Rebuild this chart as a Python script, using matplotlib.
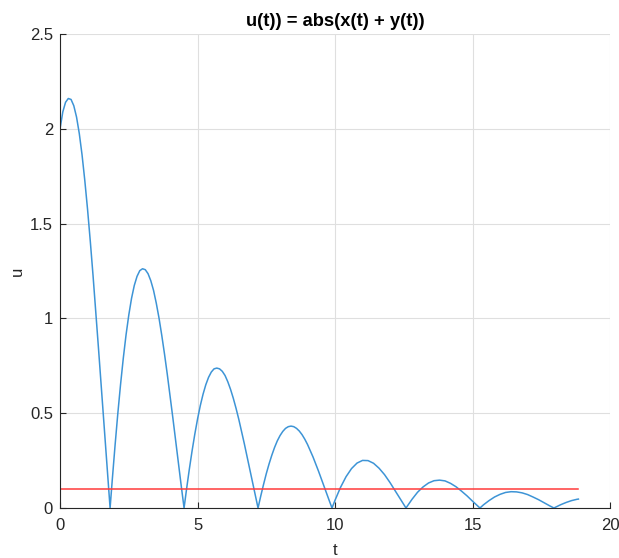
import matplotlib
matplotlib.use("Agg")
import matplotlib.pyplot as plt

# sampled response, cusps included where the sum crosses zero
t = [0.0, 0.1, 0.2, 0.3, 0.4, 0.5, 0.6, 0.7, 0.8, 0.9, 1.0, 1.1, 1.2, 1.3, 1.4,
     1.5, 1.6, 1.7, 1.8, 1.82,
     1.9, 2.0, 2.1, 2.2, 2.3, 2.4, 2.5, 2.6, 2.7, 2.8, 2.9, 3.0, 3.1, 3.2, 3.3,
     3.4, 3.5, 3.6, 3.7, 3.8, 3.9, 4.0, 4.1, 4.2, 4.3, 4.4, 4.51,
     4.6, 4.7, 4.8, 4.9, 5.0, 5.1, 5.2, 5.3, 5.4, 5.5, 5.6, 5.7, 5.8, 5.9, 6.0,
     6.1, 6.2, 6.3, 6.4, 6.5, 6.6, 6.7, 6.8, 6.9, 7.0, 7.1, 7.2,
     7.3, 7.4, 7.5, 7.6, 7.7, 7.8, 7.9, 8.0, 8.1, 8.2, 8.3, 8.4, 8.5, 8.6, 8.7,
     8.8, 8.9, 9.0, 9.2, 9.4, 9.6, 9.8, 9.89,
     10.0, 10.2, 10.4, 10.6, 10.8, 11.0, 11.2, 11.4, 11.6, 11.8, 12.0, 12.2, 12.4, 12.58,
     12.8, 13.0, 13.2, 13.4, 13.6, 13.8, 14.0, 14.2, 14.4, 14.6, 14.8, 15.0, 15.2, 15.27,
     15.4, 15.6, 15.8, 16.0, 16.2, 16.4, 16.6, 16.8, 17.0, 17.2, 17.4, 17.6, 17.8, 17.96,
     18.2, 18.4, 18.6, 18.8, 18.85]
u = [2.000, 2.089, 2.140, 2.160, 2.155, 2.122, 2.062, 1.975, 1.863, 1.728, 1.576, 1.407, 1.226, 1.035, 0.838,
     0.637, 0.434, 0.234, 0.038, 0.0,
     0.150, 0.329, 0.497, 0.651, 0.790, 0.913, 1.018, 1.106, 1.174, 1.222, 1.252, 1.262, 1.257, 1.236, 1.199,
     1.148, 1.080, 1.001, 0.910, 0.811, 0.705, 0.593, 0.478, 0.360, 0.242, 0.125, 0.0,
     0.099, 0.203, 0.300, 0.389, 0.469, 0.540, 0.600, 0.650, 0.689, 0.717, 0.734, 0.738, 0.734, 0.721, 0.699,
     0.666, 0.626, 0.579, 0.526, 0.468, 0.405, 0.340, 0.272, 0.203, 0.134, 0.066, 0.0,
     0.064, 0.124, 0.181, 0.232, 0.278, 0.319, 0.354, 0.382, 0.404, 0.420, 0.429, 0.432, 0.429, 0.420, 0.406,
     0.387, 0.363, 0.335, 0.269, 0.194, 0.114, 0.035, 0.0,
     0.041, 0.109, 0.165, 0.208, 0.237, 0.251, 0.250, 0.236, 0.210, 0.176, 0.134, 0.088, 0.041, 0.0,
     0.046, 0.083, 0.111, 0.132, 0.144, 0.147, 0.143, 0.130, 0.112, 0.089, 0.064, 0.036, 0.009, 0.0,
     0.017, 0.039, 0.058, 0.072, 0.082, 0.086, 0.085, 0.080, 0.071, 0.058, 0.044, 0.028, 0.012, 0.0,
     0.017, 0.029, 0.039, 0.046, 0.047]
threshold = 0.1

xticks = [0, 5, 10, 15, 20]
yticks = [0, 0.5, 1, 1.5, 2, 2.5]

plt.rcParams['font.family'] = ['Liberation Sans', 'DejaVu Sans']
ink = '#262626'

fig = plt.figure(figsize=(6.19, 5.58), dpi=100)
ax = fig.add_axes([0.097, 0.0896, 0.8885, 0.8494])

ax.plot(t, u, color='#3d94d6', linewidth=1.1)
ax.plot([t[0], t[-1]], [threshold, threshold], color='#ff3b3b', linewidth=1.1)

ax.set_xlim(0, 20)
ax.set_ylim(0, 2.5)
ax.set_xticks(xticks)
ax.set_xticklabels([f'{v:g}' for v in xticks])
ax.set_yticks(yticks)
ax.set_yticklabels([f'{v:g}' for v in yticks])

ax.grid(True, color='#dfdfdf', linewidth=0.8)
ax.set_axisbelow(True)
for side in ['top', 'right']:
    ax.spines[side].set_visible(False)
for side in ['left', 'bottom']:
    ax.spines[side].set_color(ink)
    ax.spines[side].set_linewidth(0.8)
ax.tick_params(direction='in', length=4.5, width=0.8, color=ink, labelcolor=ink, labelsize=12)
ax.tick_params(axis='x', pad=7)
ax.tick_params(axis='y', pad=5)

ax.set_xlabel('t', fontsize=12, color=ink, labelpad=7.5)
ax.set_ylabel('u', fontsize=12, color=ink, labelpad=4)
ax.set_title('u(t)) = abs(x(t) + y(t))', fontsize=13.2, fontweight='bold', color='black', pad=6)

fig.savefig('out.png', dpi=100)
